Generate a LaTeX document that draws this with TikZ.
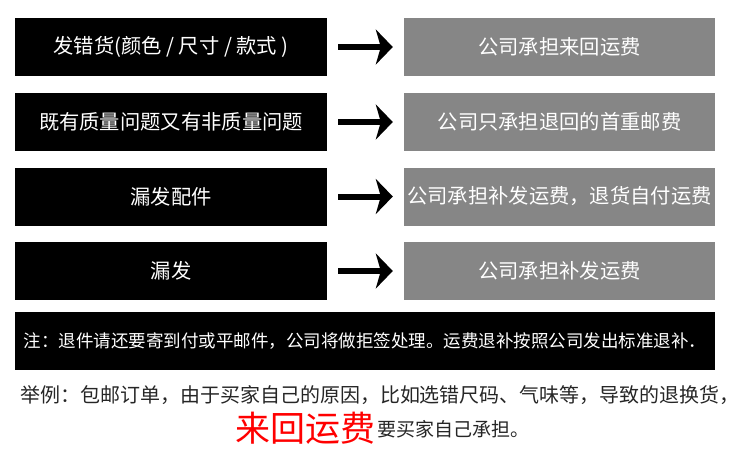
\documentclass[tikz,border=0pt]{standalone}
\usepackage{fontspec}
\newfontfamily\cjk{Noto Sans CJK SC}
\usetikzlibrary{arrows.meta}
\definecolor{boxgray}{HTML}{868686}
\definecolor{notered}{HTML}{FF0000}
\tikzset{
  causebox/.style={fill=black, text=white, minimum width=312pt, minimum height=58pt,
    inner sep=0pt, font=\cjk\fontsize{20.3}{20.3}\selectfont},
  costbox/.style={causebox, fill=boxgray, minimum width=311pt},
  tolink/.style={line width=6pt, -{Stealth[length=17pt,width=35pt,inset=5pt]},
    shorten <=11pt, shorten >=11pt}
}
\begin{document}
\begin{tikzpicture}[x=1pt,y=-1pt]
\useasboundingbox (0,0) rectangle (750,453);

% cases and who pays
\node[causebox] (c1) at (171,47) {发错货(颜色 / 尺寸 / 款式 )};
\node[costbox] (p1) at (559.5,47) {公司承担来回运费};
\node[causebox] (c2) at (171,122) {既有质量问题又有非质量问题};
\node[costbox] (p2) at (559.5,122) {公司只承担退回的首重邮费};
\node[causebox] (c3) at (171,196.5) {漏发配件};
\node[costbox] (p3) at (559.5,196.5) {公司承担补发运费，退货自付运费};
\node[causebox] (c4) at (171,271) {漏发};
\node[costbox] (p4) at (559.5,271) {公司承担补发运费};

\draw[tolink] (c1) -- (p1);
\draw[tolink] (c2) -- (p2);
\draw[tolink] (c3) -- (p3);
\draw[tolink] (c4) -- (p4);

% note
\node[causebox, minimum width=700pt, font=\cjk\fontsize{17.5}{17.5}\selectfont] (note) at (365,341)
  {注：退件请还要寄到付或平邮件，公司将做拒签处理。运费退补按照公司发出标准退补．};

% example
\node[anchor=base, inner sep=0pt, text=black!85, font=\cjk\fontsize{20}{20}\selectfont] (eg) at (380,402.5)
  {举例：包邮订单，由于买家自己的原因，比如选错尺码、气味等，导致的退换货，};
\node[anchor=base east, inner sep=0pt, text=notered, font=\cjk\fontsize{35}{35}\selectfont] (red) at (376,441)
  {来回运费};
\node[anchor=base west, inner sep=0pt, text=black!85, font=\cjk\fontsize{19}{19}\selectfont] (tail) at (377,436)
  {要买家自己承担。};
\end{tikzpicture}
\end{document}
